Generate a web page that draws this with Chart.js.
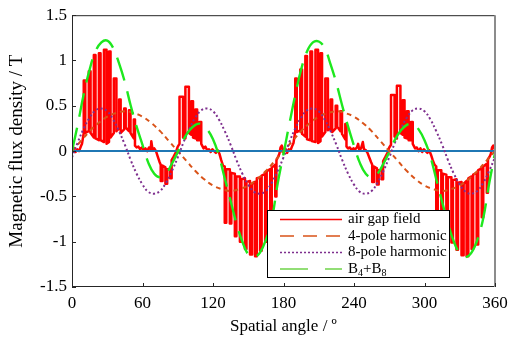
<!DOCTYPE html>
<html lang="en">
<head>
<meta charset="UTF-8">
<title>Air gap field</title>
<script src="https://cdn.jsdelivr.net/npm/chart.js"></script>
<style>
  body { margin: 0; background: #fff; }
</style>
</head>
<body>
<canvas id="myChart" width="516" height="339"></canvas>
<script>
// tick labels
const xTicks = [0, 60, 120, 180, 240, 300, 360];
const yTicks = [-1.5, -1, -0.5, 0, 0.5, 1, 1.5];
const yTickLabels = ['-1.5', '-1', '-0.5', '0', '0.5', '1', '1.5'];

const seriesNames = ['air gap field', '4-pole harmonic', '8-pole harmonic', 'B4+B8'];

// air gap field, [angle, B] (slotted, stepped)
const airGap = [
  [0,0.00],[1.5,0.02],[3,-0.01],[4.5,0.02],[6,0.00],[7.5,0.05],[8.5,0.08],[10,0.20],
  [10,0.78],[11.3,0.78],[11.3,0.20],[14.3,0.22],
  [14.3,0.88],[15.8,0.88],[15.8,0.20],[18.6,0.15],
  [18.6,1.06],[20,1.06],[20,0.14],[22.9,0.12],
  [22.9,1.08],[24.3,1.08],[24.3,0.12],[27.2,0.10],
  [27.2,1.12],[29.4,1.12],[29.4,0.08],[31.5,0.10],
  [31.5,1.10],[32.8,1.10],[32.8,0.15],[35.6,0.20],
  [35.6,0.80],[37.8,0.80],[37.8,0.22],[40.1,0.25],
  [40.1,0.57],[41.4,0.57],[41.4,0.20],[44.4,0.24],
  [44.4,0.47],[45.7,0.47],[45.7,0.26],[48.5,0.22],
  [48.5,0.45],[49.8,0.45],[49.8,0.20],[52.6,0.14],
  [52.6,0.35],[53.6,0.35],[53.6,0.06],[55,0.04],[56.5,0.05],[58,0.02],[59.5,0.04],[61,0.01],[62.5,0.03],[64,0.00],
  [65.5,0.04],[67,0.02],[67.5,0.11],[68.5,0.02],[70,0.03],[71.5,0.00],[73,-0.06],[74.5,-0.12],
  [75.5,-0.15],[75.5,-0.33],[77,-0.33],[77,-0.16],[79.5,-0.18],
  [79.5,-0.36],[81,-0.36],[81,-0.20],[83.5,-0.20],
  [83.5,-0.30],[84.8,-0.30],[84.8,-0.10],[86.5,-0.06],[88.5,-0.01],[90,0.05],[91.5,0.08],
  [91.5,0.60],[94.5,0.60],[94.5,0.15],[96.5,0.14],
  [96.5,0.71],[99.5,0.71],[99.5,0.20],[101.5,0.18],
  [101.5,0.55],[103,0.55],[103,0.15],[105,0.14],
  [105,0.46],[106.5,0.46],[106.5,0.12],[108.5,0.12],
  [108.5,0.32],[110,0.32],[110,0.08],[112,0.03],[113.5,0.05],[115,0.01],[116.5,0.02],[118,-0.01],[119.5,0.02],
  [121,0.00],[122.5,-0.02],[124,0.01],[125.5,-0.03],[127,-0.10],[128.5,-0.16],
  [130,-0.17],[130,-0.79],[131.3,-0.79],[131.3,-0.20],[134.3,-0.20],
  [134.3,-0.80],[135.6,-0.80],[135.6,-0.24],[138.6,-0.25],
  [138.6,-0.94],[139.9,-0.94],[139.9,-0.28],[142.9,-0.28],
  [142.9,-1.00],[144.2,-1.00],[144.2,-0.31],[147.2,-0.30],
  [147.2,-1.08],[148.5,-1.08],[148.5,-0.34],[151.5,-0.33],
  [151.5,-1.14],[153.3,-1.14],[153.3,-0.36],[155.8,-0.34],
  [155.8,-1.16],[157.3,-1.16],[157.3,-0.30],[160.1,-0.29],
  [160.1,-1.10],[161.4,-1.10],[161.4,-0.27],[164.4,-0.25],
  [164.4,-1.00],[165.7,-1.00],[165.7,-0.22],[168.7,-0.20],
  [168.7,-0.75],[170,-0.75],[170,-0.18],[173,-0.15],
  [173,-0.50],[174,-0.50],[174,-0.10],[175.5,-0.06],[176.5,-0.03],[177.5,0.04],[178.5,0.06],[179.5,0.02],
  [180,0.00],[181.5,0.03],[183,-0.02],[184.5,0.02],[186,0.01],[187.5,0.06],[188.5,0.09],[190,0.22],
  [190,0.80],[191.3,0.80],[191.3,0.21],[194.3,0.23],
  [194.3,0.90],[195.8,0.90],[195.8,0.19],[198.6,0.16],
  [198.6,1.05],[200,1.05],[200,0.13],[202.9,0.12],
  [202.9,1.10],[204.3,1.10],[204.3,0.11],[207.2,0.10],
  [207.2,1.12],[209.4,1.12],[209.4,0.09],[211.5,0.11],
  [211.5,1.08],[212.8,1.08],[212.8,0.16],[215.6,0.21],
  [215.6,0.80],[217.8,0.80],[217.8,0.23],[220.1,0.25],
  [220.1,0.57],[221.4,0.57],[221.4,0.21],[224.4,0.25],
  [224.4,0.50],[225.7,0.50],[225.7,0.27],[228.5,0.22],
  [228.5,0.44],[229.8,0.44],[229.8,0.19],[232.6,0.13],
  [232.6,0.30],[233.6,0.30],[233.6,0.05],[235,0.03],[236.5,0.04],[238,0.01],[239.5,0.03],[241,0.02],[242.5,0.04],
  [243.5,0.08],[244.5,0.01],[246,0.03],[247.5,0.10],[248.5,0.02],[250,0.01],[251.5,-0.02],[253,-0.07],[254.5,-0.12],
  [255.5,-0.15],[255.5,-0.34],[257,-0.34],[257,-0.17],[259.5,-0.19],
  [259.5,-0.37],[261,-0.37],[261,-0.21],[263.5,-0.21],
  [263.5,-0.31],[264.8,-0.31],[264.8,-0.11],[266.5,-0.07],[268.5,-0.02],[270,0.04],[271.5,0.07],
  [271.5,0.62],[274.5,0.62],[274.5,0.16],[276.5,0.14],
  [276.5,0.72],[279.5,0.72],[279.5,0.20],[281.5,0.18],
  [281.5,0.56],[283,0.56],[283,0.15],[285,0.14],
  [285,0.44],[286.5,0.44],[286.5,0.12],[288.5,0.12],
  [288.5,0.32],[290,0.32],[290,0.08],[292,0.03],[293.5,0.04],[295,0.00],[296.5,0.03],[298,-0.01],[299.5,0.02],
  [301,0.00],[302.5,-0.02],[304,0.01],[305.5,-0.04],[307,-0.10],[308.5,-0.15],
  [310,-0.17],[310,-0.78],[311.3,-0.78],[311.3,-0.21],[314.3,-0.21],
  [314.3,-0.82],[315.6,-0.82],[315.6,-0.25],[318.6,-0.26],
  [318.6,-0.93],[319.9,-0.93],[319.9,-0.29],[322.9,-0.29],
  [322.9,-1.01],[324.2,-1.01],[324.2,-0.32],[327.2,-0.31],
  [327.2,-1.09],[328.5,-1.09],[328.5,-0.35],[331.5,-0.34],
  [331.5,-1.15],[333.3,-1.15],[333.3,-0.36],[335.8,-0.33],
  [335.8,-1.16],[337.3,-1.16],[337.3,-0.30],[340.1,-0.28],
  [340.1,-1.08],[341.4,-1.08],[341.4,-0.26],[344.4,-0.24],
  [344.4,-1.03],[345.7,-1.03],[345.7,-0.21],[348.7,-0.19],
  [348.7,-0.73],[350,-0.73],[350,-0.17],[353,-0.14],
  [353,-0.46],[354,-0.46],[354,-0.09],[355.5,-0.06],[356.5,-0.03],[357.5,0.04],[358.5,0.06],[359.5,0.03],[360,0.01]
];

// 4-pole harmonic, every 7.5 deg
const pole4Angle = [0,7.5,15,22.5,30,37.5,45,52.5,60,67.5,75,82.5,90,97.5,105,112.5,120,127.5,135,142.5,150,157.5,165,172.5,
  180,187.5,195,202.5,210,217.5,225,232.5,240,247.5,255,262.5,270,277.5,285,292.5,300,307.5,315,322.5,330,337.5,345,352.5,360];
const pole4 = [0,0.11,0.22,0.31,0.38,0.42,0.44,0.42,0.38,0.31,0.22,0.11,0,-0.11,-0.22,-0.31,-0.38,-0.42,-0.44,-0.42,-0.38,-0.31,-0.22,-0.11,
  0,0.11,0.22,0.31,0.38,0.42,0.44,0.42,0.38,0.31,0.22,0.11,0,-0.11,-0.22,-0.31,-0.38,-0.42,-0.44,-0.42,-0.38,-0.31,-0.22,-0.11,0];

// 8-pole harmonic and B4+B8, every 5 deg
const angle5 = [0,5,10,15,20,25,30,35,40,45,50,55,60,65,70,75,80,85,90,95,100,105,110,115,120,125,130,135,140,145,150,155,160,165,170,175,
  180,185,190,195,200,205,210,215,220,225,230,235,240,245,250,255,260,265,270,275,280,285,290,295,300,305,310,315,320,325,330,335,340,345,350,355,360];
const pole8 = [-0.07,0.10,0.25,0.37,0.45,0.47,0.44,0.35,0.22,0.07,-0.10,-0.25,-0.37,-0.45,-0.47,-0.44,-0.35,-0.22,
  -0.07,0.10,0.25,0.37,0.45,0.47,0.44,0.35,0.22,0.07,-0.10,-0.25,-0.37,-0.45,-0.47,-0.44,-0.35,-0.22,
  -0.07,0.10,0.25,0.37,0.45,0.47,0.44,0.35,0.22,0.07,-0.10,-0.25,-0.37,-0.45,-0.47,-0.44,-0.35,-0.22,
  -0.07,0.10,0.25,0.37,0.45,0.47,0.44,0.35,0.22,0.07,-0.10,-0.25,-0.37,-0.45,-0.47,-0.44,-0.35,-0.22,-0.07];
const sum48 = [0,0.30,0.63,0.90,1.10,1.20,1.22,1.14,0.97,0.76,0.50,0.27,0.07,-0.13,-0.25,-0.29,-0.25,-0.14,
  -0.01,0.13,0.23,0.29,0.30,0.24,0.13,-0.05,-0.30,-0.55,-0.80,-1.00,-1.14,-1.17,-1.12,-0.98,-0.76,-0.36,
  -0.03,0.30,0.62,0.90,1.10,1.20,1.21,1.14,0.96,0.75,0.50,0.27,0.06,-0.13,-0.25,-0.29,-0.25,-0.14,
  -0.01,0.13,0.23,0.29,0.30,0.24,0.12,-0.06,-0.31,-0.56,-0.80,-1.00,-1.13,-1.17,-1.12,-0.98,-0.74,-0.36,-0.02];

const zeroAngle = [0, 360];
const zeroField = [0, 0];

function xy(xs, ys) {
  return xs.map((x, i) => ({ x: x, y: ys[i] }));
}

const colors = { red: '#ff0000', orange: '#d95319', purple: '#7e2f8e', green: '#1ee81e', blue: '#1f77b4' };
const serif = "'Liberation Serif', 'DejaVu Serif', serif";

// box, inward ticks and legend
const framePlugin = {
  id: 'frame',
  afterDraw(chart) {
    const ctx = chart.ctx;
    const a = chart.chartArea;
    const sx = chart.scales.x, sy = chart.scales.y;
    ctx.save();
    ctx.strokeStyle = '#262626';
    ctx.lineWidth = 1;
    ctx.beginPath();
    ctx.moveTo(a.left, a.top + 0.5); ctx.lineTo(a.right, a.top + 0.5);
    ctx.moveTo(a.left + 0.5, a.top); ctx.lineTo(a.left + 0.5, a.bottom);
    ctx.moveTo(a.left, a.bottom - 0.5); ctx.lineTo(a.right, a.bottom - 0.5);
    ctx.stroke();
    ctx.strokeStyle = '#8c8c8c';
    ctx.lineWidth = 2;
    ctx.beginPath();
    ctx.moveTo(a.right, a.top); ctx.lineTo(a.right, a.bottom);
    ctx.stroke();
    ctx.strokeStyle = '#262626';
    ctx.lineWidth = 1;
    ctx.beginPath();
    xTicks.forEach(v => {
      const px = Math.round(sx.getPixelForValue(v)) + 0.5;
      ctx.moveTo(px, a.bottom); ctx.lineTo(px, a.bottom - 4);
    });
    yTicks.forEach(v => {
      const py = Math.round(sy.getPixelForValue(v)) + 0.5;
      ctx.moveTo(a.left, py); ctx.lineTo(a.left + 4, py);
    });
    ctx.stroke();

    // legend
    const lx = 267.5, ly = 210.5, lw = 182, lh = 67;
    ctx.fillStyle = '#fff';
    ctx.fillRect(lx, ly, lw, lh);
    ctx.strokeStyle = '#000';
    ctx.lineWidth = 1;
    ctx.strokeRect(lx, ly, lw, lh);
    const rows = [219.5, 236, 252.5, 269];
    const styles = [
      { c: colors.red, d: [] },
      { c: colors.orange, d: [14, 9] },
      { c: colors.purple, d: [2, 2] },
      { c: '#6fd34a', d: [28, 17] }
    ];
    ctx.textBaseline = 'middle';
    rows.forEach((y, i) => {
      ctx.strokeStyle = styles[i].c;
      ctx.lineWidth = 1.6;
      ctx.setLineDash(styles[i].d);
      ctx.beginPath();
      ctx.moveTo(280, y); ctx.lineTo(342, y);
      ctx.stroke();
      ctx.setLineDash([]);
      ctx.fillStyle = '#000';
      if (i < 3) {
        ctx.font = '15px ' + serif;
        ctx.fillText(seriesNames[i], 348, y);
      } else {
        let x = 348;
        const parts = [['B', 0], ['4', 1], ['+B', 0], ['8', 1]];
        parts.forEach(p => {
          ctx.font = (p[1] ? '10px ' : '15px ') + serif;
          ctx.fillText(p[0], x, y + (p[1] ? 4 : 0));
          x += ctx.measureText(p[0]).width;
        });
      }
    });
    ctx.restore();
  }
};

const ctx = document.getElementById('myChart');
new Chart(ctx, {
  type: 'scatter',
  data: {
    datasets: [
      { label: seriesNames[3], data: xy(angle5, sum48), showLine: true, borderColor: colors.green, borderWidth: 2.4,
        borderDash: [24, 11], tension: 0.4, pointRadius: 0, order: 0 },
      { label: seriesNames[2], data: xy(angle5, pole8), showLine: true, borderColor: colors.purple, borderWidth: 2,
        borderDash: [2, 2.5], tension: 0.4, pointRadius: 0, order: 1 },
      { label: seriesNames[1], data: xy(pole4Angle, pole4), showLine: true, borderColor: colors.orange, borderWidth: 2,
        borderDash: [5, 4], tension: 0.4, pointRadius: 0, order: 2 },
      { label: 'zero', data: xy(zeroAngle, zeroField), showLine: true, borderColor: colors.blue, borderWidth: 2,
        pointRadius: 0, order: 3 },
      { label: seriesNames[0], data: airGap.map(p => ({ x: p[0], y: p[1] })), showLine: true, borderColor: colors.red,
        borderWidth: 2.5, borderJoinStyle: 'round', pointRadius: 0, order: 4 }
    ]
  },
  options: {
    responsive: false,
    animation: false,
    layout: { padding: { top: 13, right: 21, left: 0, bottom: 0 } },
    plugins: { legend: { display: false }, tooltip: { enabled: false } },
    scales: {
      x: {
        type: 'linear', min: 0, max: 360,
        afterBuildTicks: s => { s.ticks = xTicks.map(v => ({ value: v })); },
        afterFit: s => { s.height = 52; },
        grid: { display: false, drawTicks: false },
        border: { display: false },
        ticks: { color: '#000', font: { family: serif, size: 17 }, padding: 6, maxRotation: 0 },
        title: { display: true, text: 'Spatial angle / º', color: '#000', font: { family: serif, size: 17 }, padding: { top: 0, bottom: 2 } }
      },
      y: {
        min: -1.5, max: 1.5,
        afterBuildTicks: s => { s.ticks = yTicks.map(v => ({ value: v })); },
        afterFit: s => { s.width = 72; },
        grid: { display: false, drawTicks: false },
        border: { display: false },
        ticks: { color: '#000', font: { family: serif, size: 17 }, padding: 5,
          callback: (v) => yTickLabels[yTicks.indexOf(v)] },
        title: { display: true, text: 'Magnetic flux density / T', color: '#000', font: { family: serif, size: 19 }, padding: { top: 6, bottom: 0 } }
      }
    }
  },
  plugins: [framePlugin]
});
</script>
</body>
</html>
